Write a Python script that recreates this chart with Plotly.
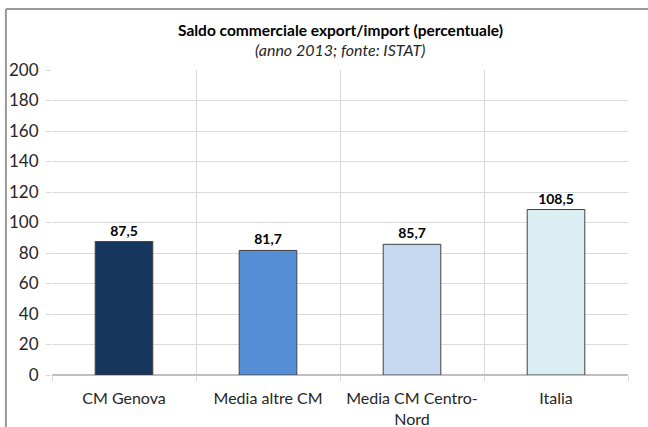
import plotly.graph_objects as go

categories = ["CM Genova", "Media altre CM", "Media CM Centro-<br>Nord", "Italia"]
values = [87.5, 81.7, 85.7, 108.5]
value_labels = ["<b>87,5</b>", "<b>81,7</b>", "<b>85,7</b>", "<b>108,5</b>"]
colors = ["#17365D", "#558ED5", "#C6D9F1", "#DBEEF4"]
y_ticks = list(range(0, 201, 20))

FONT = "Lato, 'Open Sans', sans-serif"
GRID = "#D9D9D9"

fig = go.Figure(
    data=[
        go.Bar(
            x=categories,
            y=values,
            marker=dict(color=colors, line=dict(color="#404040", width=1)),
            text=value_labels,
            textposition="outside",
            textfont=dict(family=FONT, size=14, color="#000000"),
            cliponaxis=False,
            width=0.4,
        )
    ]
)

fig.update_layout(
    width=648,
    height=427,
    margin=dict(l=52, r=20, t=70, b=52),
    paper_bgcolor="white",
    plot_bgcolor="white",
    showlegend=False,
    font=dict(family=FONT, size=16, color="#262626"),
    xaxis=dict(
        showgrid=True,
        gridcolor=GRID,
        tickson="boundaries",
        ticks="outside",
        ticklen=5,
        tickcolor=GRID,
        ticklabelstandoff=12,
        automargin=False,
        showline=False,
        tickfont=dict(family=FONT, size=16, color="#262626"),
    ),
    yaxis=dict(
        range=[0, 200],
        tickvals=y_ticks,
        showgrid=True,
        gridcolor=GRID,
        ticks="outside",
        ticklen=5,
        tickcolor=GRID,
        ticklabelstandoff=4,
        automargin=False,
        zeroline=True,
        zerolinecolor="#BFBFBF",
        tickfont=dict(family=FONT, size=17, color="#262626"),
    ),
    bargap=0.6,
)

# title and subtitle
fig.add_annotation(
    text="<b>Saldo commerciale export/import (percentuale)</b>",
    xref="paper", yref="paper", x=0.5, y=1.131, yanchor="middle",
    showarrow=False, font=dict(family=FONT, size=15.5, color="#000000"),
)
fig.add_annotation(
    text="<i>(anno 2013; fonte: ISTAT)</i>",
    xref="paper", yref="paper", x=0.5, y=1.066, yanchor="middle",
    showarrow=False, font=dict(family=FONT, size=16, color="#262626"),
)

# outer chart frame (top and left edges visible)
fig.add_shape(type="line", xref="paper", yref="paper",
              x0=-0.08, x1=1.1, y0=1.2, y1=1.2,
              line=dict(color="#999999", width=2))
fig.add_shape(type="line", xref="paper", yref="paper",
              x0=-0.08, x1=-0.08, y0=1.2, y1=-0.2,
              line=dict(color="#999999", width=2))

fig.write_html(
    "out.html",
    config={"displayModeBar": False},
    post_script="document.body.style.margin='0';",
)
